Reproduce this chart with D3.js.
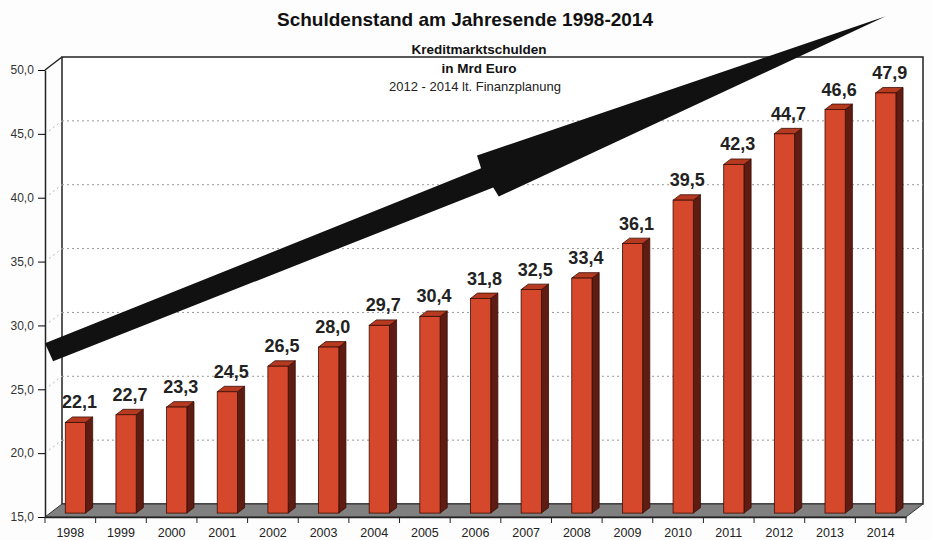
<!DOCTYPE html>
<html>
<head>
<meta charset="utf-8">
<script src="https://cdn.jsdelivr.net/npm/d3@7"></script>
<style>
  body { margin: 0; background: #fdfdfd; }
  text { font-family: "Liberation Sans", Arial, sans-serif; }
</style>
</head>
<body>
<div id="chart"></div>
<script>
// data
const years = ['1998','1999','2000','2001','2002','2003','2004','2005','2006','2007','2008','2009','2010','2011','2012','2013','2014'];
const debt = [22.1, 22.7, 23.3, 24.5, 26.5, 28.0, 29.7, 30.4, 31.8, 32.5, 33.4, 36.1, 39.5, 42.3, 44.7, 46.6, 47.9];
const y_ticks = [15, 20, 25, 30, 35, 40, 45, 50];
// Pfeil in (Kategorie-Position, Wert)
const arrow_pts = [[0, 28.6], [8.61, 42.3], [8.53, 43.3], [16.6, 54.2], [8.96, 40.1], [8.85, 40.8], [0.16, 27.2]];

const fmt = v => d3.format('.1f')(v).replace('.', ',');

const svg_width = 933;
const svg_height = 540;
const margin = {top: 70, right: 27, bottom: 23, left: 45};
const depth = {dx: 17, dy: -13};

const svg = d3.select('#chart').append('svg')
    .attr('width', svg_width)
    .attr('height', svg_height);

const x_scale = d3.scaleBand()
    .domain(years)
    .range([margin.left, svg_width - margin.right]);
const x_pos = d3.scaleLinear([0, years.length], [margin.left, svg_width - margin.right]);
const y_scale = d3.scaleLinear([15, 50], [svg_height - margin.bottom, margin.top]);

const x0 = x_scale.range()[0], x1 = x_scale.range()[1];
const y0 = y_scale(15), y1 = y_scale(50);

// back wall
svg.append('rect')
    .attr('x', x0 + depth.dx).attr('y', y1 + depth.dy)
    .attr('width', x1 - x0).attr('height', y0 - y1)
    .style('fill', '#fff').style('stroke', '#222').style('stroke-width', 1.5);

// gridlines
const grid = svg.append('g').attr('class', 'grid');
grid.selectAll('line.h').data(y_ticks.filter(d => d > 15 && d < 50)).join('line')
    .attr('class', 'h')
    .attr('x1', x0 + depth.dx).attr('x2', x1 + depth.dx)
    .attr('y1', d => y_scale(d) + depth.dy).attr('y2', d => y_scale(d) + depth.dy)
    .style('stroke', '#999').style('stroke-dasharray', '2,3');
grid.selectAll('line.d').data(y_ticks.filter(d => d > 15 && d < 50)).join('line')
    .attr('class', 'd')
    .attr('x1', x0 + 4).attr('x2', x0 + depth.dx)
    .attr('y1', d => y_scale(d) - 3).attr('y2', d => y_scale(d) + depth.dy)
    .style('stroke', '#bbb').style('stroke-dasharray', '2,3');

// left wall edge
svg.append('line')
    .attr('x1', x0).attr('y1', y1).attr('x2', x0 + depth.dx).attr('y2', y1 + depth.dy)
    .style('stroke', '#222').style('stroke-width', 1.5);

// floor
svg.append('polygon')
    .attr('points', [[x0, y0], [x1, y0], [x1 + depth.dx, y0 + depth.dy], [x0 + depth.dx, y0 + depth.dy]].join(' '))
    .style('fill', '#808080').style('stroke', '#333').style('stroke-width', 1);

// y axis
const y_axis = d3.axisLeft(y_scale).tickValues(y_ticks).tickFormat(fmt).tickSizeInner(7).tickSizeOuter(0);
const y_axis_draw = svg.append('g')
    .attr('transform', `translate(${x0},0)`)
    .call(y_axis);
y_axis_draw.select('.domain').style('stroke', '#222').style('stroke-width', 1.5);
y_axis_draw.selectAll('text').style('font-size', '12px').style('fill', '#333').attr('dx', '-0.1em');

// x axis
const x_axis = d3.axisBottom(x_scale).tickSize(0).tickPadding(11);
const x_axis_draw = svg.append('g')
    .attr('transform', `translate(0,${y0})`)
    .call(x_axis);
x_axis_draw.select('.domain').style('stroke', '#222').style('stroke-width', 1.5);
x_axis_draw.selectAll('text').style('font-size', '12.5px').style('fill', '#222');
x_axis_draw.selectAll('.sep').data(d3.range(years.length + 1)).join('line')
    .attr('class', 'sep')
    .attr('x1', d => x_pos(d)).attr('x2', d => x_pos(d))
    .attr('y1', 0).attr('y2', 6)
    .style('stroke', '#222');

// bars (3D)
const bw = x_scale.bandwidth() * 0.4;
const f_off = {dx: depth.dx * 0.3, dy: depth.dy * 0.3};
const b_d = {dx: depth.dx * 0.42, dy: depth.dy * 0.42};
const bar_data = years.map((yr, i) => ({year: yr, value: debt[i]}));

const bars = svg.append('g').attr('class', 'bars');
const bar = bars.selectAll('g.bar').data(bar_data).join('g')
    .attr('class', 'bar')
    .attr('transform', d => `translate(${x_scale(d.year) + (x_scale.bandwidth() - bw) / 2 + f_off.dx},${f_off.dy})`);

bar.append('polygon')
    .attr('points', d => {
        const top = y_scale(d.value);
        return [[bw, top], [bw + b_d.dx, top + b_d.dy], [bw + b_d.dx, y0 + b_d.dy], [bw, y0]].join(' ');
    })
    .style('fill', '#5e1c12').style('stroke', '#3a0e06').style('stroke-width', 0.8);
bar.append('polygon')
    .attr('points', d => {
        const top = y_scale(d.value);
        return [[0, top], [b_d.dx, top + b_d.dy], [bw + b_d.dx, top + b_d.dy], [bw, top]].join(' ');
    })
    .style('fill', '#b53a20').style('stroke', '#3a0e06').style('stroke-width', 0.8);
bar.append('rect')
    .attr('x', 0).attr('y', d => y_scale(d.value))
    .attr('width', bw).attr('height', d => y0 - y_scale(d.value))
    .style('fill', '#d6482b').style('stroke', '#3a0e06').style('stroke-width', 0.8);

bar.append('text')
    .attr('x', bw / 2 + 4)
    .attr('y', d => y_scale(d.value) - 14)
    .attr('text-anchor', 'middle')
    .style('font-size', '18px').style('font-weight', 'bold').style('fill', '#222')
    .text(d => fmt(d.value));

// arrow
svg.append('polygon')
    .attr('points', arrow_pts.map(p => [x_pos(p[0]), y_scale(p[1])]).join(' '))
    .style('fill', '#111');

// header
const header = svg.append('g').attr('class', 'header');
header.append('text')
    .attr('x', 465).attr('y', 26)
    .attr('text-anchor', 'middle')
    .style('font-size', '19px').style('font-weight', 'bold').style('fill', '#111')
    .text('Schuldenstand am Jahresende 1998-2014');
header.append('text')
    .attr('x', 479).attr('y', 54)
    .attr('text-anchor', 'middle')
    .style('font-size', '13.5px').style('font-weight', 'bold').style('fill', '#111')
    .text('Kreditmarktschulden');
header.append('text')
    .attr('x', 479).attr('y', 73)
    .attr('text-anchor', 'middle')
    .style('font-size', '13.5px').style('font-weight', 'bold').style('fill', '#111')
    .text('in Mrd Euro');
header.append('text')
    .attr('x', 475).attr('y', 91)
    .attr('text-anchor', 'middle')
    .style('font-size', '13px').style('fill', '#222')
    .text('2012 - 2014 lt. Finanzplanung');
</script>
</body>
</html>
